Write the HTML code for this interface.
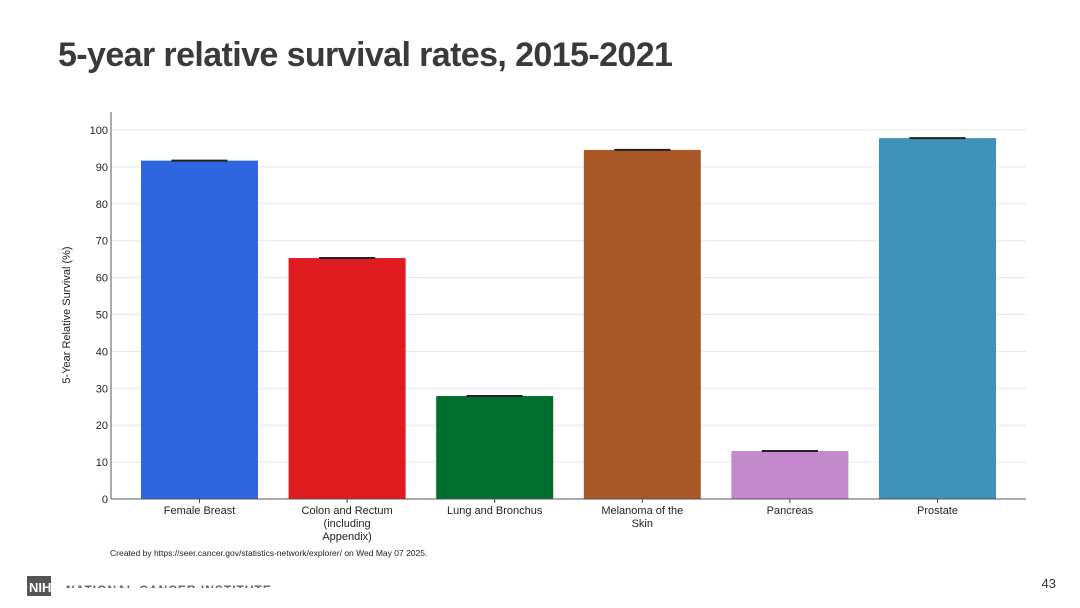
<!DOCTYPE html>
<html><head><meta charset="utf-8"><style>
body{margin:0;width:1080px;height:608px;background:#fff;font-family:"Liberation Sans",Arial,sans-serif;overflow:hidden;position:relative}
svg{position:absolute;left:0;top:0}
</style></head><body>
<svg width="1080" height="608">
<text x="58" y="66" font-size="34" font-weight="bold" fill="#3a3a3a" letter-spacing="-0.6">5-year relative survival rates, 2015-2021</text>
<g id="grid"></g>
<g id="bars"></g>
<g id="axes"></g>
<text transform="translate(70,315) rotate(-90)" text-anchor="middle" font-size="11" fill="#222">5-Year Relative Survival (%)</text>
<text x="110" y="556" font-size="8.5" fill="#222">Created by https://seer.cancer.gov/statistics-network/explorer/ on Wed May 07 2025.</text>
<rect x="27" y="576" width="24" height="20" fill="#555"/>
<text x="29" y="592" font-size="13" font-weight="bold" fill="#fff">NIH</text>
<text x="66" y="594" font-size="12" font-weight="bold" fill="#666" letter-spacing="1">NATIONAL CANCER INSTITUTE</text>
<rect x="60" y="588" width="220" height="20" fill="#fff"/>
<text x="1056" y="588" font-size="13" fill="#333" text-anchor="end">43</text>
</svg>
<script>
const categories=[["Female Breast"],["Colon and Rectum","(including","Appendix)"],["Lung and Bronchus"],["Melanoma of the","Skin"],["Pancreas"],["Prostate"]];
const values=[91.7,65.3,27.9,94.6,13.0,97.8];
const colors=["#2f66e0","#e01b1f","#006f2e","#a85827","#c389cc","#3f92b8"];
const ticks=[0,10,20,30,40,50,60,70,80,90,100];
const NS="http://www.w3.org/2000/svg";
const x0=111,x1=1026,yb=499,yt=130;
const y=v=>yb-(v/100)*(yb-yt);
const band=147.6;
const bx=i=>x0+30+band*i;
const bw=117;
function mk(t,a,p){const e=document.createElementNS(NS,t);for(const k in a)e.setAttribute(k,a[k]);p.appendChild(e);return e;}
const G=document.getElementById('grid'),B=document.getElementById('bars'),A=document.getElementById('axes');
ticks.forEach(t=>{
 const l=mk('line',{x1:x0,x2:x1,y1:y(t),y2:y(t),stroke:'#e6e6e6'},G);
 
 
 const tx=mk('text',{x:x0-3,y:y(t)+4,'text-anchor':'end','font-size':11,fill:'#222'},A);
 tx.textContent=t;
 
 
});
values.forEach((v,i)=>{
 const r=mk('rect',{x:bx(i),y:y(v),width:bw,height:yb-y(v),fill:colors[i]},B);
 
 
 const c=mk('line',{x1:bx(i)+bw*0.26,x2:bx(i)+bw*0.74,y1:y(v),y2:y(v),stroke:'#222','stroke-width':2},B);
 
 
 const cx=bx(i)+bw/2;
 mk('line',{x1:cx,x2:cx,y1:yb,y2:yb+4,stroke:'#444'},A);
 categories[i].forEach((s,j)=>{
  const t=mk('text',{x:cx,y:yb+15+j*13,'text-anchor':'middle','font-size':11,fill:'#222'},A);
  t.textContent=s;
  
  
 });
});
mk('line',{x1:x0,x2:x0,y1:yt-18,y2:yb,stroke:'#555'},A);
mk('line',{x1:x0,x2:x1,y1:yb,y2:yb,stroke:'#555'},A);
</script>
</body></html>
